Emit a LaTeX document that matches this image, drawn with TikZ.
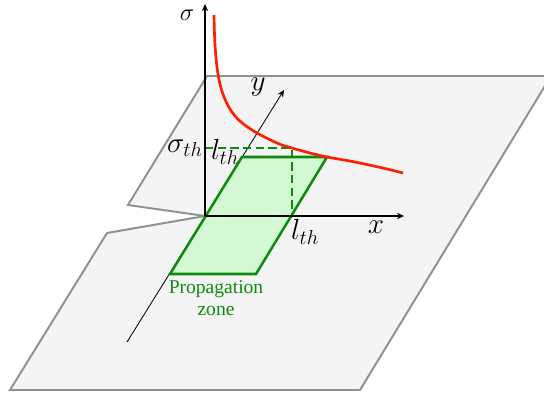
\documentclass[tikz,border=0pt]{standalone}
\usepackage{fontspec}
\newfontfamily\zonefont{Liberation Serif}
\usetikzlibrary{arrows.meta}
\usepackage{xcolor}
\definecolor{planefill}{RGB}{244,244,244}
\definecolor{planeline}{RGB}{145,145,145}
\definecolor{zonefill}{RGB}{212,248,212}
\definecolor{zoneline}{RGB}{12,140,12}
\definecolor{curvered}{RGB}{255,32,0}

\begin{document}
\begin{tikzpicture}[x=0.025cm, y=-0.025cm,
  plane/.style={draw=planeline, fill=planefill, line width=1.4pt},
  zone/.style={draw=zoneline, fill=zonefill, line width=1.8pt},
  zonedash/.style={draw=zoneline, line width=1.8pt, dash pattern=on 6pt off 3pt},
  axis/.style={-{Stealth[length=5pt,width=4.5pt]}, line width=0.8pt},
  curve/.style={draw=curvered, line width=1.9pt},
  lbl/.style={font=\fontsize{20}{24}\selectfont, inner sep=0pt},
  zonetext/.style={font=\zonefont\fontsize{13.9}{15.5}\selectfont, text=zoneline, align=center, inner sep=0pt}]
  \useasboundingbox (0,0) rectangle (544,395);
  \clip (0,0) rectangle (544,395);

  % Plane with notch
  \draw[plane] (207,76) -- (551,76) -- (360,390) -- (10,390) -- (107,233)
    -- (205,216) -- (128,205) -- cycle;

  % Points
  \coordinate (O) at (205,216);
  \coordinate (sigtop) at (205,4);
  \coordinate (xend) at (404,216);
  \coordinate (ystart) at (127,342);
  \coordinate (yend) at (284,90);
  \coordinate (sth) at (205,148);
  \coordinate (corner) at (292,148);
  \coordinate (lth) at (292,216);

  % y axis (under the zone edge)
  \draw[axis, line width=0.6pt] (ystart) -- (yend);

  % Propagation zone
  \draw[zone] (170,274) -- (256,274) -- (327,157) -- (242,157) -- cycle;
  \draw[zonedash] (sth) -- (corner) -- (lth);

  % Axes
  \draw[axis] (O) -- (sigtop);
  \draw[axis] (O) -- (xend);

  % Threshold curve
  \draw[curve] plot[smooth, tension=0.6] coordinates {(214,15) (215,45) (218,74)
    (224,97) (235,116) (252,130) (277,143) (292,148) (310,153) (327,157)
    (355,162) (387,169) (403,173)};

  % Labels
  \node[lbl, font=\fontsize{18}{22}\selectfont] (sigma) at (187,15) {$\sigma$};
  \node[lbl] (ylab) at (258,87) {$y$};
  \node[lbl] (xlab) at (376,227) {$x$};
  \node[lbl] (sigth) at (185,148) {$\sigma_{th}$};
  \node[lbl] (lthtop) at (225,152) {$l_{th}$};
  \node[lbl] (lthx) at (305,232) {$l_{th}$};
  \node[zonetext] (prop) at (216,298) {Propagation\\zone};
\end{tikzpicture}
\end{document}
